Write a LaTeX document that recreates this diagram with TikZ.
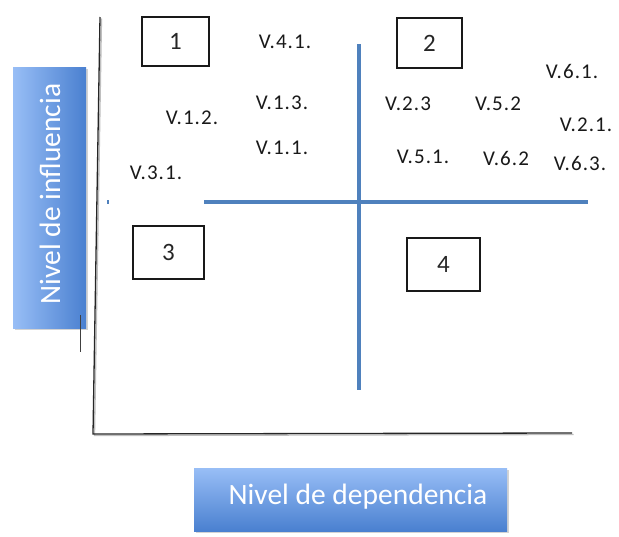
\documentclass[tikz,border=0pt]{standalone}
\usepackage{fontspec}
\setmainfont{Carlito}
\newfontfamily\lblfont[LetterSpace=5]{Carlito}
\usetikzlibrary{shadows}
\definecolor{qblue}{RGB}{79,129,189}
\definecolor{lblue}{RGB}{152,190,246}
\definecolor{dblue}{RGB}{74,128,208}
\begin{document}
\begin{tikzpicture}[x=1pt,y=-1pt,
  numbox/.style={draw=black!90, line width=1.2pt, inner sep=0pt, font=\fontsize{25}{25}\selectfont, text=black!85},
  vlabel/.style={inner sep=0pt, font=\lblfont\fontsize{21}{21}\selectfont, text=black!90},
  bluebox/.style={draw=none, inner sep=0pt,
    drop shadow={opacity=0.35, shadow xshift=2pt, shadow yshift=-2pt}},
  bluetext/.style={inner sep=0pt, text=white, font=\fontsize{29.5}{29.5}\selectfont},
  quadline/.style={draw=qblue, line width=4.5pt},
  axisline/.style={draw=black!85, line width=1.3pt}]
\useasboundingbox (0,0) rectangle (619,536);

% axes
\coordinate (ytop) at (100,17);
\coordinate (origin) at (93,434);
\coordinate (xend) at (572,433);
\draw[black!25, line width=1.3pt] ([xshift=1.5pt,yshift=-1.5pt]ytop) -- ([xshift=1.5pt,yshift=-1.5pt]origin) -- ([xshift=1.5pt,yshift=-1.5pt]xend);
\draw[axisline] (ytop) -- (origin) -- (xend);

% quadrant lines
\coordinate (hl) at (107,202);
\coordinate (hr) at (588,202);
\coordinate (vt) at (359,44);
\coordinate (vb) at (359,390);
\draw[quadline] (hl) -- (hr);
\draw[quadline] (vt) -- (vb);
\fill[white] (109,197) rectangle (204,207.5);

% quadrant number boxes
\node[numbox, minimum width=67pt, minimum height=49pt] (q1) at (175.5,41.5) {1};
\node[numbox, minimum width=65pt, minimum height=50pt] (q2) at (429.5,43) {2};
\node[numbox, minimum width=71pt, minimum height=53pt] (q3) at (168.5,252.5) {3};
\node[numbox, minimum width=73pt, minimum height=53pt] (q4) at (443.5,264.5) {4};

% variable labels
\node[vlabel] (v41) at (285,42) {V.4.1.};
\node[vlabel] (v13) at (282,103) {V.1.3.};
\node[vlabel] (v12) at (192,118) {V.1.2.};
\node[vlabel] (v11) at (282,148) {V.1.1.};
\node[vlabel] (v31) at (156,173) {V.3.1.};
\node[vlabel] (v61) at (572,71) {V.6.1.};
\node[vlabel] (v23) at (408,104) {V.2.3};
\node[vlabel] (v52) at (498,104) {V.5.2};
\node[vlabel] (v21) at (586,125) {V.2.1.};
\node[vlabel] (v51) at (423,157) {V.5.1.};
\node[vlabel] (v62) at (506,158) {V.6.2};
\node[vlabel] (v63) at (580,163) {V.6.3.};

% axis titles
\node[bluebox, minimum width=73pt, minimum height=261pt,
  left color=lblue, right color=dblue] (ylab) at (49.5,197.5) {};
\node[bluetext, rotate=90] (ylabtext) at (50,194) {Nivel de influencia};
\draw[black!75, line width=1pt] (80,315) coordinate (tk1) -- (80,352) coordinate (tk2);
\node[bluebox, minimum width=313pt, minimum height=63pt,
  top color=lblue, bottom color=dblue] (xlab) at (350.5,499.5) {};
\node[bluetext] (xlabtext) at (358,497) {Nivel de dependencia};
\end{tikzpicture}
\end{document}
